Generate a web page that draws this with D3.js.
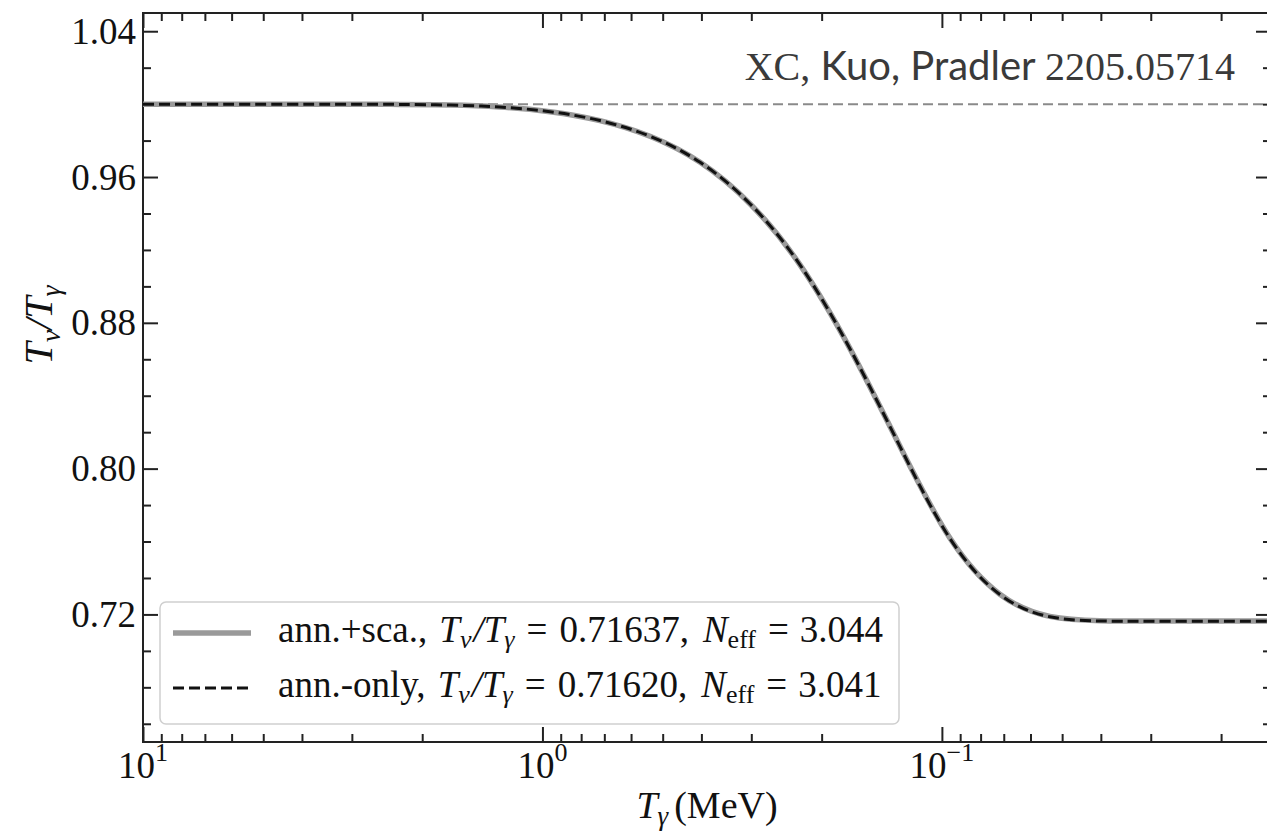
<!DOCTYPE html>
<html lang="en">
<head>
    <meta charset="UTF-8">
    <title>T_nu / T_gamma</title>
    <script src="https://d3js.org/d3.v7.min.js"></script>
    <style>
        body {
            margin: 0;
            padding: 0;
            background: #fff;
            overflow: hidden;
        }

        #chart text {
            fill: #111;
        }

        .serif {
            font-family: "Liberation Serif", "DejaVu Serif", serif;
        }
    </style>
</head>
<body>
<svg id="chart" width="1267" height="831" xmlns="http://www.w3.org/2000/svg"></svg>
<script>
    // photon temperature (MeV), high -> low
    var tempMeV = [10, 5, 3.03, 2.27, 1.70, 1.28, 0.958, 0.718, 0.538, 0.403, 0.302, 0.227, 0.170,
        0.127, 0.0955, 0.0716, 0.0537, 0.0402, 0.0302, 0.02, 0.015];
    // T_nu / T_gamma, annihilation + scattering
    var annSca = [1.0000, 0.99999, 0.99996, 0.99985, 0.99946, 0.99839, 0.99587, 0.99097, 0.98238, 0.96808, 0.94523, 0.91207, 0.86598,
        0.81174, 0.76188, 0.73109, 0.71891, 0.71658, 0.71638, 0.71637, 0.71637];
    // T_nu / T_gamma, annihilation only
    var annOnly = [1.0000, 0.99999, 0.99996, 0.99985, 0.99946, 0.99839, 0.99587, 0.99097, 0.98238, 0.96808, 0.94523, 0.91207, 0.86590,
        0.81163, 0.76173, 0.73093, 0.71875, 0.71641, 0.71621, 0.71620, 0.71620];

    var xDomain = [10, 0.015];
    var yDomain = [0.65, 1.05];
    var xMajor = [10, 1, 0.1];
    var xMajorExp = ['1', '0', '\u22121'];
    var yMajor = [0.72, 0.80, 0.88, 0.96, 1.04];
    var refLevel = 1.0;

    var legendRows = [
        {label: 'ann.+sca.', ratio: '0.71637', neff: '3.044'},
        {label: 'ann.-only', ratio: '0.71620', neff: '3.041'}
    ];

    (function () {
        var left = 143, right = 1271, top = 13, bottom = 742;
        var svg = d3.select('#chart');

        var x = d3.scaleLog().domain(xDomain).range([left, right]);
        var y = d3.scaleLinear().domain(yDomain).range([bottom, top]);

        // minor ticks: 2..9 in each decade
        var xMinor = [];
        [10, 1, 0.1, 0.01].forEach(function (dec) {
            for (var k = 2; k <= 9; k++) {
                var v = dec * k / 10;
                if (v < xDomain[0] && v > xDomain[1]) xMinor.push(v);
            }
        });
        var yMinor = d3.range(0.66, 1.05, 0.02).filter(function (v) {
            return yMajor.every(function (m) { return Math.abs(m - v) > 1e-6; });
        });

        var tickColor = '#222';

        function styleAxis(g) {
            g.select('.domain').remove();
            g.selectAll('.tick line').attr('stroke', tickColor).attr('stroke-width', 2);
            g.selectAll('.tick text').remove();
        }

        // bottom / top ticks (pointing in)
        svg.append('g').attr('transform', 'translate(0,' + bottom + ')')
            .call(d3.axisBottom(x).tickValues(xMajor).tickSize(-15).tickFormat(''))
            .call(styleAxis);
        svg.append('g').attr('transform', 'translate(0,' + bottom + ')')
            .call(d3.axisBottom(x).tickValues(xMinor).tickSize(-8).tickFormat(''))
            .call(styleAxis);
        svg.append('g').attr('transform', 'translate(0,' + top + ')')
            .call(d3.axisTop(x).tickValues(xMajor).tickSize(-15).tickFormat(''))
            .call(styleAxis);
        svg.append('g').attr('transform', 'translate(0,' + top + ')')
            .call(d3.axisTop(x).tickValues(xMinor).tickSize(-8).tickFormat(''))
            .call(styleAxis);

        // left / right ticks
        svg.append('g').attr('transform', 'translate(' + left + ',0)')
            .call(d3.axisLeft(y).tickValues(yMajor).tickSize(-15).tickFormat(''))
            .call(styleAxis);
        svg.append('g').attr('transform', 'translate(' + left + ',0)')
            .call(d3.axisLeft(y).tickValues(yMinor).tickSize(-8).tickFormat(''))
            .call(styleAxis);
        svg.append('g').attr('transform', 'translate(' + right + ',0)')
            .call(d3.axisRight(y).tickValues(yMajor).tickSize(-15).tickFormat(''))
            .call(styleAxis);
        svg.append('g').attr('transform', 'translate(' + right + ',0)')
            .call(d3.axisRight(y).tickValues(yMinor).tickSize(-8).tickFormat(''))
            .call(styleAxis);

        // frame
        svg.append('rect')
            .attr('x', left).attr('y', top)
            .attr('width', right - left).attr('height', bottom - top)
            .attr('fill', 'none').attr('stroke', tickColor).attr('stroke-width', 2);

        // y tick labels
        svg.append('g').attr('class', 'serif').attr('font-size', 37)
            .selectAll('text').data(yMajor).join('text')
            .attr('x', left - 7)
            .attr('y', function (d) { return y(d); })
            .attr('dy', '0.34em')
            .attr('text-anchor', 'end')
            .text(function (d) { return d.toFixed(2); });

        // x tick labels 10^n
        var xl = svg.append('g').attr('class', 'serif').attr('font-size', 37)
            .selectAll('text').data(xMajor).join('text')
            .attr('x', function (d) { return x(d); })
            .attr('y', 778)
            .attr('text-anchor', 'middle');
        xl.append('tspan').text('10');
        xl.append('tspan').attr('dy', -17).attr('font-size', 26)
            .text(function (d, i) { return xMajorExp[i]; });

        // axis titles
        var xt = svg.append('text').attr('class', 'serif').attr('font-size', 38)
            .attr('x', (left + right) / 2).attr('y', 818).attr('text-anchor', 'middle');
        xt.append('tspan').attr('font-style', 'italic').text('T');
        xt.append('tspan').attr('font-style', 'italic').attr('font-size', 27).attr('dy', 7).text('\u03b3');
        xt.append('tspan').attr('dy', -7).attr('dx', 6).text('(MeV)');

        var yt = svg.append('text').attr('class', 'serif').attr('font-size', 40)
            .attr('transform', 'translate(52,325) rotate(-90)').attr('text-anchor', 'middle');
        yt.append('tspan').attr('font-style', 'italic').text('T');
        yt.append('tspan').attr('font-style', 'italic').attr('font-size', 28).attr('dy', 8).text('\u03bd');
        yt.append('tspan').attr('font-style', 'italic').attr('dy', -8).text('/T');
        yt.append('tspan').attr('font-style', 'italic').attr('font-size', 28).attr('dy', 8).text('\u03b3');

        // clip for data
        svg.append('defs').append('clipPath').attr('id', 'plot-clip')
            .append('rect').attr('x', left).attr('y', top)
            .attr('width', right - left).attr('height', bottom - top);
        var plot = svg.append('g').attr('clip-path', 'url(#plot-clip)');

        // reference line at 1
        plot.append('line')
            .attr('x1', left).attr('x2', right)
            .attr('y1', y(refLevel)).attr('y2', y(refLevel))
            .attr('stroke', '#8a8a8a').attr('stroke-width', 2)
            .attr('stroke-dasharray', '10,5');

        var line = d3.line()
            .x(function (d) { return x(d[0]); })
            .y(function (d) { return y(d[1]); })
            .curve(d3.curveNatural);

        plot.append('path')
            .datum(d3.zip(tempMeV, annSca))
            .attr('d', line)
            .attr('fill', 'none').attr('stroke', '#9a9a9a').attr('stroke-width', 5.5);
        plot.append('path')
            .datum(d3.zip(tempMeV, annOnly))
            .attr('d', line)
            .attr('fill', 'none').attr('stroke', '#111').attr('stroke-width', 3)
            .attr('stroke-dasharray', '11,5');

        // credit
        var credit = svg.append('text').attr('x', 1235).attr('y', 80)
            .attr('text-anchor', 'end').style('fill', '#3a3a3a');
        credit.append('tspan').attr('class', 'serif').attr('font-size', 40).text('XC,');
        credit.append('tspan').attr('font-family', 'Lato, sans-serif').attr('font-size', 40).text(' Kuo, Pradler ');
        credit.append('tspan').attr('class', 'serif').attr('font-size', 40).text('2205.05714');

        // legend
        var lg = svg.append('g');
        lg.append('rect')
            .attr('x', 160).attr('y', 602).attr('width', 739).attr('height', 122)
            .attr('rx', 6).attr('fill', 'rgba(255,255,255,0.85)')
            .attr('stroke', '#cfcfcf').attr('stroke-width', 1.5);
        var rows = lg.selectAll('g.row').data(legendRows).join('g')
            .attr('class', 'row')
            .attr('transform', function (d, i) { return 'translate(0,' + (i * 55) + ')'; });
        rows.append('line')
            .attr('x1', 173).attr('x2', 251).attr('y1', 633).attr('y2', 633)
            .attr('stroke', function (d, i) { return i === 0 ? '#9a9a9a' : '#111'; })
            .attr('stroke-width', function (d, i) { return i === 0 ? 5.5 : 3; })
            .attr('stroke-dasharray', function (d, i) { return i === 0 ? null : '11,5'; });
        var lt = rows.append('text').attr('class', 'serif').attr('font-size', 37)
            .attr('x', 278).attr('y', 642);
        lt.append('tspan').text(function (d) { return d.label + ','; });
        lt.append('tspan').attr('dx', 12).attr('font-style', 'italic').text('T');
        lt.append('tspan').attr('font-style', 'italic').attr('font-size', 26).attr('dy', 6).text('\u03bd');
        lt.append('tspan').attr('font-style', 'italic').attr('dy', -6).attr('dx', 2).text('/T');
        lt.append('tspan').attr('font-style', 'italic').attr('font-size', 26).attr('dy', 6).text('\u03b3');
        lt.append('tspan').attr('dy', -6).attr('dx', 12).text('=');
        lt.append('tspan').attr('dx', 12).text(function (d) { return d.ratio + ','; });
        lt.append('tspan').attr('dx', 14).attr('font-style', 'italic').text('N');
        lt.append('tspan').attr('font-size', 26).attr('dy', 6).text('eff');
        lt.append('tspan').attr('dy', -6).attr('dx', 12).text('=');
        lt.append('tspan').attr('dx', 11).text(function (d) { return d.neff; });
    })();
</script>
</body>
</html>
